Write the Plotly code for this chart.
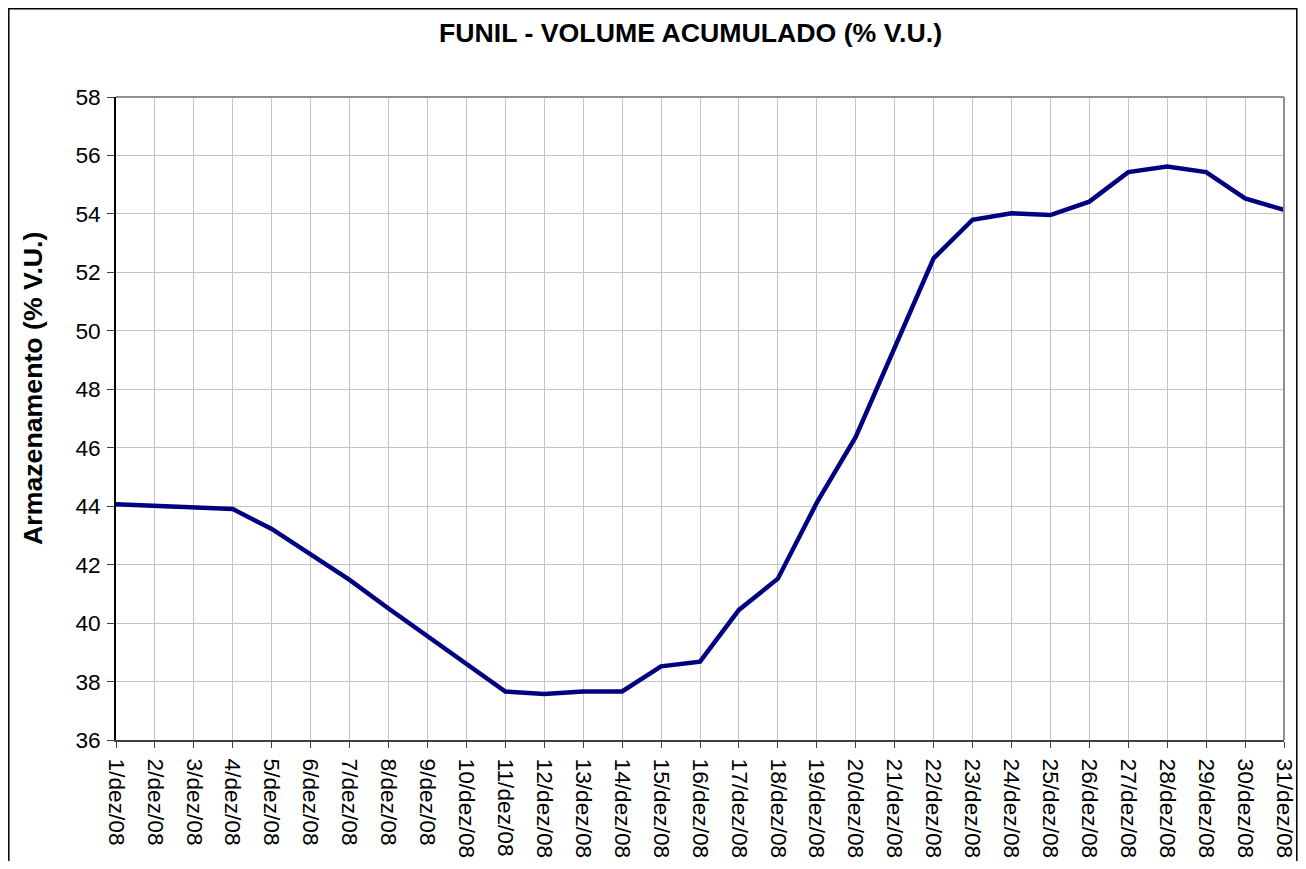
import plotly.graph_objects as go

days = list(range(1, 32))
labels = [f"{d}/dez/08" for d in days]
volume = [44.07, 44.01, 43.95, 43.90, 43.22, 42.37, 41.48, 40.50, 39.54, 38.62,
          37.66, 37.57, 37.66, 37.66, 38.52, 38.68, 40.45, 41.52, 44.12, 46.37,
          49.42, 52.48, 53.80, 54.02, 53.96, 54.42, 55.43, 55.62, 55.43, 54.53,
          54.14]
yticks = list(range(36, 59, 2))

OFF = 8  # default body margin of the html page
W, H = 1306 - 2 * OFF, 869 - 2 * OFF
# plot area in screen pixels
SL, SR, ST, SB = 116, 1284, 97, 740
L, T = SL - OFF, ST - OFF
R, B = W - (SR - OFF), H - (SB - OFF)
pw, ph = SR - SL, SB - ST


def px(x):
    return (x - SL) / pw


def py(y):
    return (SB - y) / ph


font = "Liberation Sans, Arial, sans-serif"

fig = go.Figure()
fig.add_trace(go.Scatter(x=days, y=volume, mode="lines",
                         line=dict(color="#000080", width=4.5), showlegend=False))

fig.update_layout(
    width=W, height=H,
    margin=dict(l=L, r=R, t=T, b=B, pad=0, autoexpand=False),
    paper_bgcolor="white", plot_bgcolor="white",
    font=dict(family=font, color="black"),
)
fig.update_xaxes(
    range=[1, 31], tickvals=days, ticktext=labels, tickangle=90,
    tickfont=dict(family=font, size=22.7, color="black"),
    showgrid=True, gridcolor="#c4c4c4", gridwidth=1,
    showline=True, linecolor="#404040", linewidth=2,
    ticks="outside", ticklen=6, tickcolor="#404040", zeroline=False,
    ticklabelstandoff=6, automargin=False,
)
fig.update_yaxes(
    range=[36, 58], tickvals=yticks,
    tickfont=dict(family=font, size=22.7, color="black"),
    showgrid=True, gridcolor="#c4c4c4", gridwidth=1,
    showline=True, linecolor="black", linewidth=1.5,
    ticks="outside", ticklen=7, tickcolor="#404040", zeroline=False,
    ticklabelstandoff=2, automargin=False,
)

# title
fig.add_annotation(text="<b>FUNIL - VOLUME ACUMULADO (% V.U.)</b>",
                   xref="paper", yref="paper", x=px(690), y=py(33),
                   xanchor="center", yanchor="middle", showarrow=False,
                   font=dict(family=font, size=26.7, color="black"))
# y-axis title
fig.add_annotation(text="<b>Armazenamento (% V.U.)</b>",
                   xref="paper", yref="paper", x=px(33), y=py(389),
                   xanchor="center", yanchor="middle", showarrow=False,
                   textangle=-90,
                   font=dict(family=font, size=26.7, color="black"))

# plot-area frame on top/right (gray)
fig.add_shape(type="line", xref="paper", yref="paper", x0=0, x1=1, y0=1, y1=1,
              line=dict(color="#909090", width=2))
fig.add_shape(type="line", xref="paper", yref="paper", x0=1, x1=1, y0=0, y1=1,
              line=dict(color="#909090", width=2))
# outer chart border (bottom edge falls outside the figure)
fig.add_shape(type="rect", xref="paper", yref="paper",
              x0=px(OFF + 0.8), x1=px(OFF + W - 1.2), y0=py(OFF + H + 20), y1=py(OFF + 0.8),
              line=dict(color="black", width=1.5), fillcolor="rgba(0,0,0,0)")

fig.write_html("out.html")
